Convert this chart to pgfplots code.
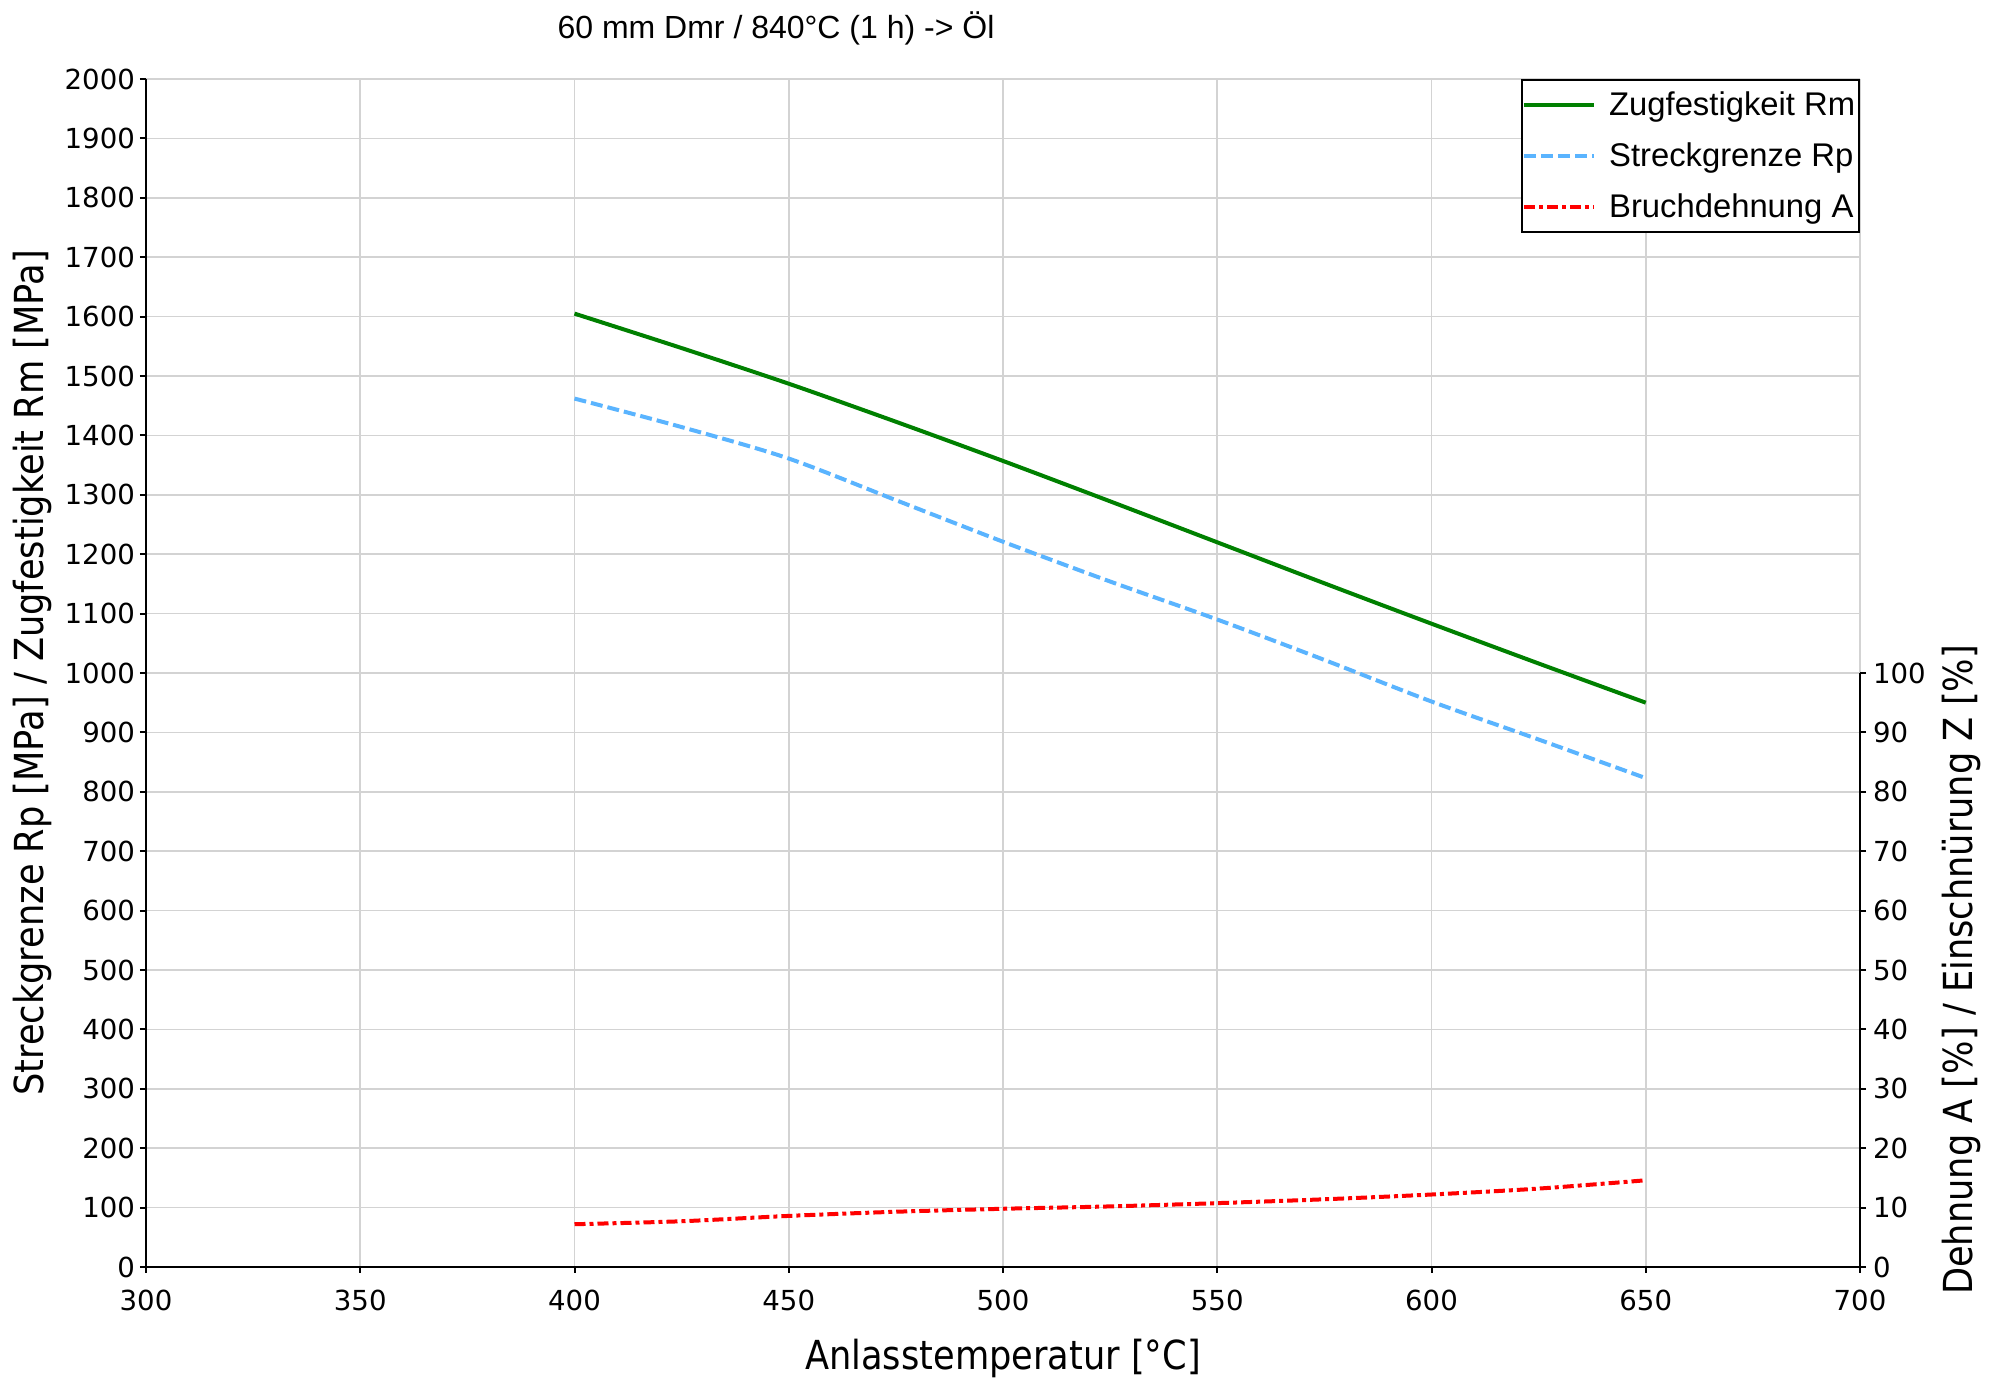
\documentclass[border=0pt]{standalone}
\usepackage{fontspec}
\setmainfont{Liberation Sans}
\newfontfamily\tickfont{DejaVu Sans}
\newfontfamily\labelfont[FakeStretch=0.88]{DejaVu Sans}
\usepackage{pgfplots}
\pgfplotsset{compat=1.18}
\definecolor{rmgreen}{RGB}{0,128,0}
\definecolor{rpblue}{RGB}{90,180,255}
\definecolor{gridgray}{RGB}{211,211,211}
\begin{document}
\begin{tikzpicture}
\begin{axis}[name=main, scale only axis, width=857pt, height=594pt,
  xmin=300, xmax=700, ymin=0, ymax=2000,
  xtick={300,350,...,700}, ytick={0,100,...,2000},
  axis x line*=bottom, axis y line*=left,
  axis line style={-, black, line width=1.2pt},
  grid=major, major grid style={gridgray, line width=0.8pt},
  tick style={black, line width=1pt}, tick align=outside, major tick length=3pt,
  ticklabel style={font=\fontsize{13.8}{16}\tickfont},
  xticklabel style={yshift=-5pt},
  yticklabel style={xshift=1pt},
  /pgf/number format/assume math mode=true,
  /pgf/number format/set thousands separator={},
  xlabel={Anlasstemperatur [°C]},
  ylabel={Streckgrenze Rp [MPa] / Zugfestigkeit Rm [MPa]},
  label style={font=\fontsize{20}{23}\labelfont},
  x label style={at={(axis description cs:0.5,-0.077)}, anchor=center},
  y label style={at={(axis description cs:-0.0665,0.5)}, anchor=center},
  legend style={at={(1,1)}, anchor=north east, draw=black, line width=0.8pt, fill=white,
    font=\fontsize{16.4}{19}\selectfont, inner xsep=0pt, inner ysep=4pt, row sep=8pt,
    /tikz/every odd column/.append style={column sep=4.5pt}},
  legend cell align=left,
  legend image code/.code={\draw[#1] (0pt,0pt) -- (35pt,0pt);},
]
\addplot[rmgreen, line width=2pt, smooth] coordinates {
 (400,1605) (425,1547) (450,1487) (475,1423) (500,1357) (525,1289) (550,1220) (575,1151) (600,1083) (625,1016) (650,950)};
\addlegendentry{Zugfestigkeit Rm}
\addplot[rpblue, line width=2pt, dash pattern=on 6pt off 2.5pt, smooth] coordinates {
 (400,1462) (425,1414) (450,1361) (475,1291) (500,1221) (525,1154) (550,1090) (575,1022) (600,952) (625,888) (650,823)};
\addlegendentry{Streckgrenze Rp}
\addlegendimage{red, line width=2pt, dash pattern=on 5.5pt off 2pt on 2pt off 2pt}
\addlegendentry{Bruchdehnung A}
\end{axis}
\begin{axis}[at={(main.south west)}, anchor=south west, scale only axis, width=857pt, height=297pt,
  xmin=300, xmax=700, ymin=0, ymax=100,
  axis x line=none, axis y line*=right,
  axis line style={-, black, line width=1.2pt},
  ytick={0,10,...,100},
  tick style={black, line width=1pt}, tick align=outside, major tick length=3pt,
  ticklabel style={font=\fontsize{13.8}{16}\tickfont},
  /pgf/number format/assume math mode=true,
  ylabel={Dehnung A [\%] / Einschnürung Z [\%]},
  label style={font=\fontsize{20}{23}\labelfont},
  y label style={at={(axis description cs:1.0589,0.5)}, anchor=center},
]
\addplot[red, line width=2pt, dash pattern=on 5.5pt off 2pt on 2pt off 2pt, smooth] coordinates {
 (400,7.2) (425,7.7) (450,8.6) (475,9.3) (500,9.8) (525,10.2) (550,10.75) (575,11.4) (600,12.2) (625,13.2) (650,14.6)};
\end{axis}
\node[font=\fontsize{16}{19}\selectfont] at ([shift={(315pt,25.5pt)}]main.north west) {60 mm Dmr / 840°C (1 h) -> Öl};
\pgfresetboundingbox
\path[use as bounding box] ([shift={(-73pt,-62pt)}]main.south west) rectangle ++(998.5pt,695.5pt);
\end{tikzpicture}
\end{document}
